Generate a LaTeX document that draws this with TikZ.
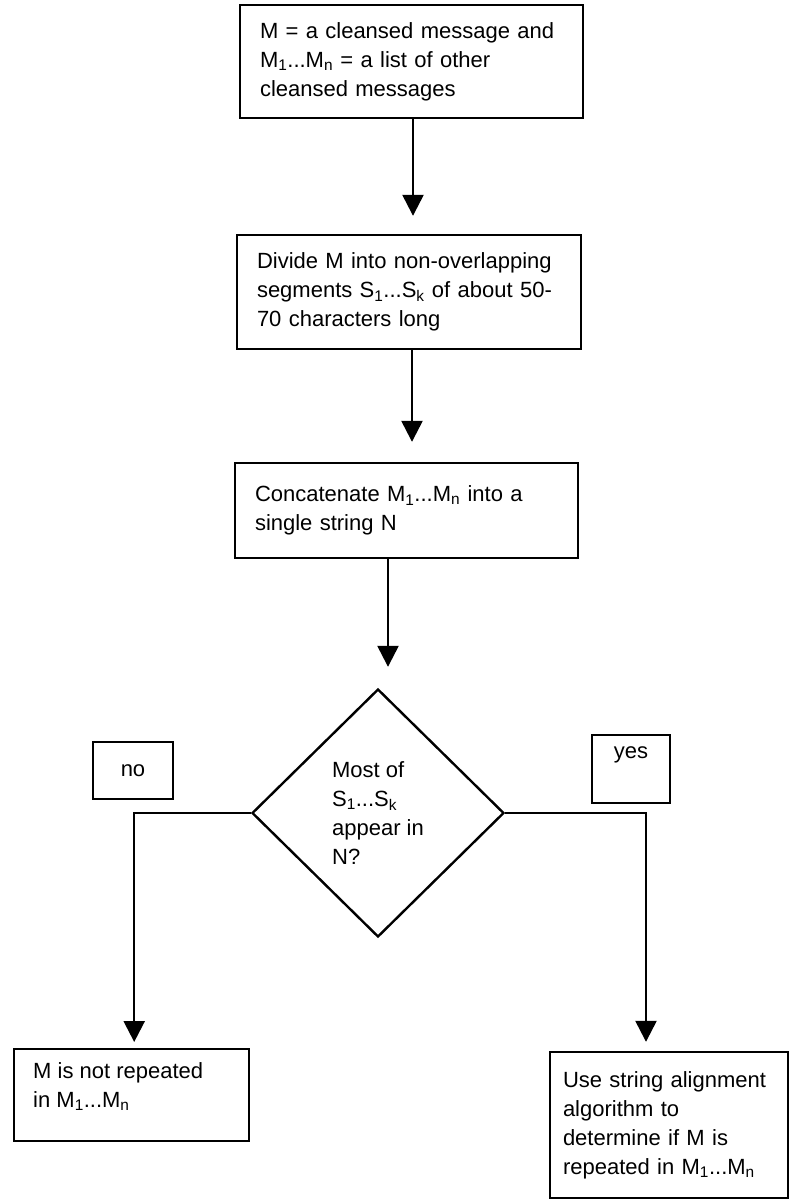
\documentclass[tikz,border=0pt]{standalone}
\usepackage{fontspec}
\setmainfont{Liberation Sans}
\usetikzlibrary{arrows.meta,shapes.geometric}
\begin{document}
\begin{tikzpicture}[x=1bp,y=-1bp,
  every node/.style={font=\fontsize{22bp}{29bp}\selectfont},
  frame/.style={draw, line width=2.4bp},
  box/.style={frame, rectangle, inner xsep=20bp, inner ysep=0pt, align=left},
  arr/.style={line width=2.4bp, -{Triangle[width=21bp,length=21bp]}},
  ]
\useasboundingbox (0,0) rectangle (790,1202);
\node[box, text width=303bp, minimum height=113bp] (b1) at (411.5,61.5)
  {M = a cleansed message and\\ M\textsubscript{1}...M\textsubscript{n} = a list of other\\ cleansed messages};
\node[box, text width=304bp, minimum height=114bp] (b2) at (409,292)
  {Divide M into non-overlapping\\ segments S\textsubscript{1}...S\textsubscript{k} of about 50-\\ 70 characters long};
\node[box, text width=303bp, minimum height=95bp] (b3) at (406.5,510.5)
  {Concatenate M\textsubscript{1}...M\textsubscript{n} into a\\ single string N};
\node[frame, diamond, minimum width=252bp, minimum height=248bp, inner sep=0pt, align=left] (d) at (378,813)
  {Most of\\ S\textsubscript{1}...S\textsubscript{k}\\ appear in\\ N?};
\node[frame, minimum width=80bp, minimum height=57bp, inner sep=0pt] (no) at (133,770.5) {no};
\node[frame, minimum width=78bp, inner sep=0pt, text height=23bp, text depth=45bp] (yes) at (631,769) {yes};
\node[frame, anchor=north west, inner xsep=19bp, inner ysep=13bp] (lb) at (13,1048)
  {\parbox[t][66bp][t]{197bp}{M is not repeated\\ in M\textsubscript{1}...M\textsubscript{n}}};
\node[box, inner xsep=13bp, text width=212bp, minimum height=146bp] (rb) at (669,1125)
  {Use string alignment\\ algorithm to\\ determine if M is\\ repeated in M\textsubscript{1}...M\textsubscript{n}};
\draw[arr, shorten >=18bp] ([xshift=1.5bp]b1.south) -- ([xshift=1.5bp]b1.south |- b2.north);
\draw[arr, shorten >=20bp] ([xshift=3bp]b2.south) -- ([xshift=3bp]b2.south |- b3.north);
\draw[arr, shorten >=21bp] ([xshift=-18.5bp]b3.south) -- ([xshift=-18.5bp]b3.south |- d.north);
\draw[arr, shorten >=6bp] (d.west) -| ([xshift=2.5bp]lb.north);
\draw[arr, shorten >=9bp] (d.east) -| ([xshift=-23bp]rb.north);
\end{tikzpicture}
\end{document}
